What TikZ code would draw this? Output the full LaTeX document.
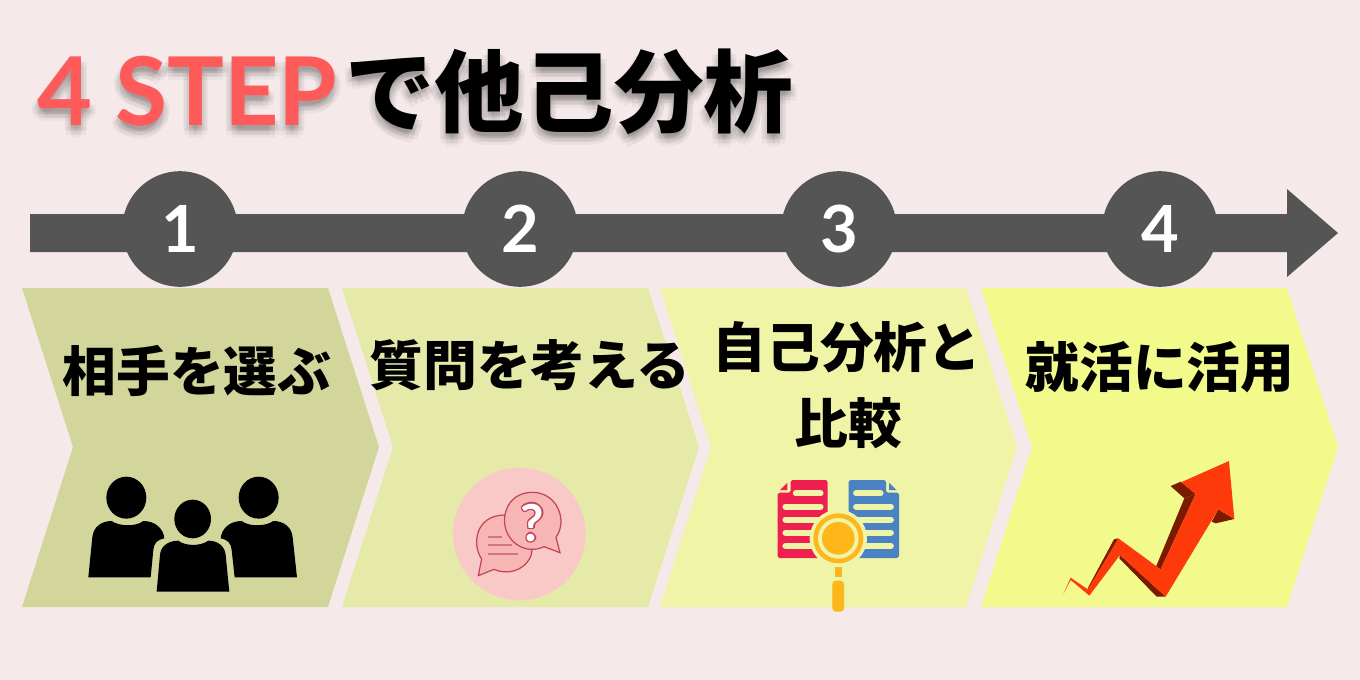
\documentclass[tikz,border=0pt]{standalone}
\usepackage{fontspec}
\setmainfont{Noto Sans CJK JP}
\newfontfamily\latinfont{Lato}
\definecolor{bgpink}{HTML}{F5E9E9}
\definecolor{arrowgray}{HTML}{555555}
\definecolor{stepa}{HTML}{D3D69B}
\definecolor{stepb}{HTML}{E6EAA8}
\definecolor{stepc}{HTML}{EFF4A6}
\definecolor{stepd}{HTML}{F3FA8C}
\definecolor{titlered}{HTML}{FF5A5A}
\definecolor{bubblepale}{HTML}{F9C9C7}
\definecolor{bubblefill}{HTML}{F7B5B3}
\definecolor{bubbleline}{HTML}{C2455A}
\definecolor{docred}{HTML}{EF204F}
\definecolor{docblue}{HTML}{4B82C3}
\definecolor{lensorange}{HTML}{FDB71A}
\definecolor{growred}{HTML}{FF3A0A}
\definecolor{growdark}{HTML}{7A1A00}
\tikzset{
  stepnum/.style={circle,fill=arrowgray,minimum size=116\pgflinewidth*0+65.8pt,inner sep=0pt,text=white,font=\latinfont\fontsize{37}{37}\selectfont\bfseries},
  steplabel/.style={inner sep=0pt,font=\fontsize{30.6}{30.6}\selectfont\bfseries},
  titlelatin/.style={inner sep=0pt,font=\latinfont\fontsize{54}{54}\selectfont\bfseries},
  titlecjk/.style={inner sep=0pt,font=\fontsize{51}{51}\selectfont\bfseries},
  docline/.style={stepc,line width=3.3,line cap=round}
}
\begin{document}
\begin{tikzpicture}[x=0.02cm,y=-0.02cm]
\fill[bgpink] (0,0) rectangle (1360,680);
% title shadow
\foreach \dx/\dy in {0/3,3/6,-3/6,0/9,5/10,-5/10,0/13,2/4,-2/4,6/6,-6/6} {
  \node[titlelatin,text=black,opacity=0.035,anchor=base west] (shadowa) at (37+\dx,125+\dy) {4 STEP};
  \node[titlecjk,text=black,opacity=0.035,anchor=base west] (shadowb) at (345+\dx,125+\dy) {で他己分析};
}
\node[titlelatin,text=titlered,anchor=base west] (titlea) at (37,125) {4 STEP};
\node[titlecjk,anchor=base west] (titleb) at (345,125) {で他己分析};
% timeline
\fill[arrowgray] (30,214) -- (1287,214) -- (1287,189) -- (1338,233) -- (1287,277) -- (1287,252) -- (30,252) -- cycle;
\node[stepnum] (n1) at (180,229) {1};
\node[stepnum] (n2) at (520,229) {2};
\node[stepnum] (n3) at (839,229) {3};
\node[stepnum] (n4) at (1160,229) {4};
% chevrons
\fill[stepa] (22,288) -- (328,288) -- (379,447) -- (328,607) -- (22,607) -- (73,447) -- cycle;
\fill[stepb] (342,288) -- (648,288) -- (699,447) -- (648,607) -- (342,607) -- (393,447) -- cycle;
\fill[stepc] (660,288) -- (966,288) -- (1017,447) -- (966,607) -- (660,607) -- (711,447) -- cycle;
\fill[stepd] (981,288) -- (1287,288) -- (1338,447) -- (1287,607) -- (981,607) -- (1032,447) -- cycle;
\node[steplabel] (la) at (197,371) {相手を選ぶ};
\node[steplabel] (lb) at (530,365) {質問を考える};
\node[steplabel] (lc) at (847,347) {自己分析と};
\node[steplabel] (ld) at (848,423) {比較};
\node[steplabel] (le) at (1160,367) {就活に活用};
% people
\begin{scope}[shift={(60,460)},x=0.00667cm,y=-0.00667cm]
\fill (199,113) ellipse (60 and 63);
\fill (596,113) ellipse (60 and 63);
\fill (398,177) ellipse (55 and 58);
\fill (85,352) -- (97,232) .. controls (100,200) and (125,183) .. (155,183) .. controls (175,198) and (225,202) .. (250,183) .. controls (285,183) and (310,205) .. (313,235) .. controls (290,240) and (282,250) .. (280,270) -- (272,352) -- cycle;
\fill (711,352) -- (698,232) .. controls (695,200) and (670,183) .. (640,183) .. controls (620,198) and (570,202) .. (545,183) .. controls (510,183) and (485,205) .. (482,235) .. controls (505,240) and (513,250) .. (515,270) -- (524,352) -- cycle;
\fill (290,395) -- (300,285) .. controls (302,258) and (325,242) .. (355,242) .. controls (375,258) and (420,260) .. (445,242) .. controls (475,242) and (495,260) .. (497,285) -- (508,395) -- cycle;
\end{scope}
% question bubbles
\begin{scope}[shift={(440,460)},x=0.00667cm,y=-0.00667cm]
\fill[bubblepale] (238,222) circle (199 and 199);
\draw[bubbleline,fill=bubblefill,line width=0.7pt] (125,297) .. controls (95,255) and (105,165) .. (195,165) .. controls (260,165) and (290,230) .. (272,290) .. controls (250,335) and (200,345) .. (162,328) -- (115,347) -- cycle;
\draw[bubbleline,fill=bubblefill,line width=0.7pt] (348,232) .. controls (385,180) and (350,97) .. (278,97) .. controls (220,97) and (190,140) .. (194,190) .. controls (200,250) and (260,285) .. (312,260) -- (360,278) -- cycle;
\draw[bubbleline!75!white,line width=1.2pt] (143,230) -- (185,230);
\draw[bubbleline!75!white,line width=1.2pt] (143,256) -- (215,256);
\draw[bubbleline!75!white,line width=1.2pt] (143,282) -- (233,282);
\foreach \dx/\dy in {-4/0,4/0,0/-4,0/4,-3/-3,3/3,-3/3,3/-3} {
  \node[inner sep=0pt,text=bubbleline,font=\latinfont\fontsize{29}{29}\selectfont\bfseries] (qshadow) at (278+\dx,188+\dy) {?};
}
\node[inner sep=0pt,text=white,font=\latinfont\fontsize{29}{29}\selectfont\bfseries] (qmark) at (278,188) {?};
\end{scope}
% documents and lens
\begin{scope}[shift={(760,470)},x=0.00667cm,y=-0.00667cm]
\fill[docred,rounded corners=1pt] (53,68) -- (92,68) -- (92,30) -- (203,30) -- (203,264) -- (53,264) -- cycle;
\fill[docred] (60,60) -- (82,38) -- (82,60) -- cycle;
\fill[docblue,rounded corners=1pt] (266,30) -- (378,30) -- (378,68) -- (417,68) -- (417,264) -- (266,264) -- cycle;
\fill[docblue] (387,38) -- (409,60) -- (387,60) -- cycle;
\draw[docline] (107,70) -- (182,70);
\draw[docline] (76,110) -- (182,110);
\draw[docline] (76,149) -- (182,149);
\draw[docline] (76,188) -- (182,188);
\draw[docline] (76,228) -- (182,228);
\draw[docline] (288,70) -- (362,70);
\draw[docline] (288,110) -- (393,110);
\draw[docline] (288,149) -- (393,149);
\draw[docline] (288,188) -- (393,188);
\draw[docline] (288,228) -- (393,228);
\fill[stepc] (235,205) circle (86 and 86);
\fill[lensorange] (235,205) circle (75 and 75);
\fill[stepc] (235,205) circle (61 and 61);
\fill[lensorange] (235,205) circle (49 and 49);
\fill[lensorange] (225,290) rectangle (246,321);
\fill[lensorange,rounded corners=2pt] (217,332) rectangle (252,425);
\end{scope}
% growth arrow
\begin{scope}[shift={(1050,450)},x=0.00667cm,y=-0.00667cm]
\fill[growdark] (362,108) -- (393,95) -- (437,132) -- (403,145) -- cycle;
\fill[growdark] (403,145) -- (437,132) -- (332,358) -- (318,350) -- cycle;
\fill[growdark] (205,265) -- (192,268) -- (113,415) -- (120,425) -- cycle;
\fill[growdark] (210,315) -- (347,440) -- (320,440) -- (208,325) -- cycle;
\fill[growdark] (505,178) -- (553,207) -- (497,220) -- (485,215) -- cycle;
\fill[growred] (40,432) -- (62,383) -- (113,418) -- (205,265) -- (332,358) -- (437,132) -- (393,97) -- (537,33) -- (553,207) -- (505,178) -- (347,440) -- (210,315) -- (118,437) -- (62,390) -- cycle;
\end{scope}
\end{tikzpicture}
\end{document}
